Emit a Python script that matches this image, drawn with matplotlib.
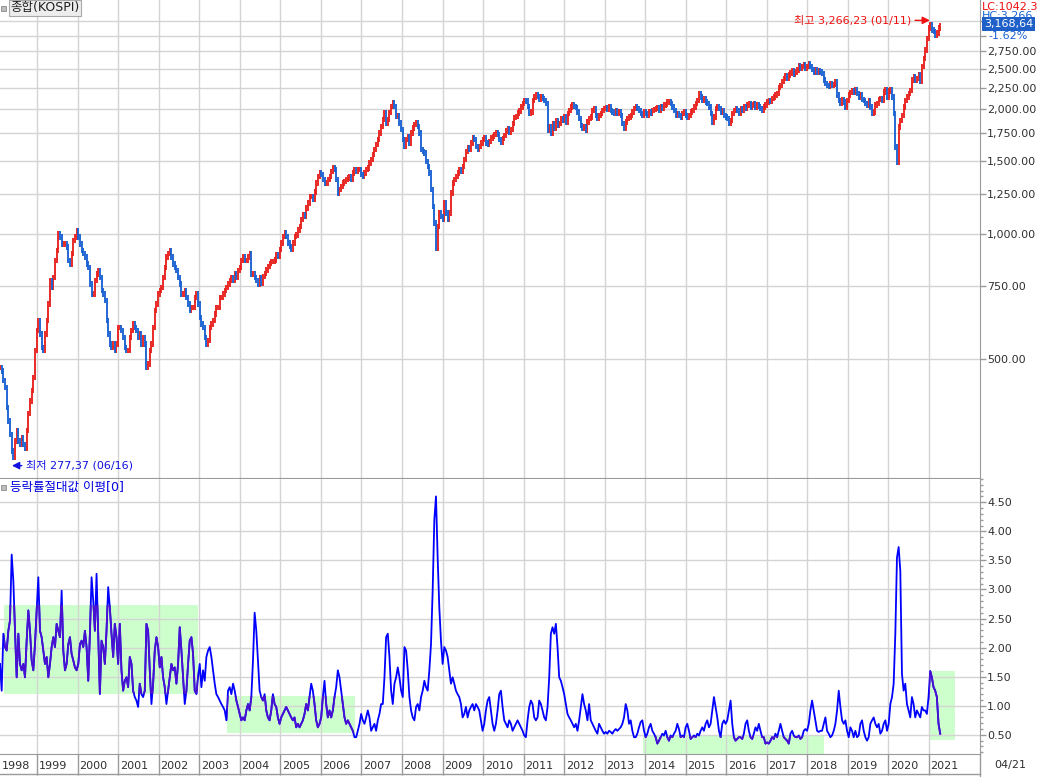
import numpy as np
import pandas as pd
import matplotlib
matplotlib.use('Agg')
import matplotlib.pyplot as plt
from matplotlib.patches import Rectangle
from matplotlib.lines import Line2D
from matplotlib.ticker import FixedLocator, MultipleLocator, NullLocator
import matplotlib.transforms as mtransforms

plt.rcParams['font.family'] = ['DejaVu Sans', 'Noto Sans CJK KR']

# KOSPI closes, one reading every 15 days from late Jan 1998
kospi_98_04 = [478, 469, 444, 428, 383, 355, 330, 301, 290, 318,
               337, 318, 312, 324, 312, 306, 337, 370, 397, 420,
               452, 524, 586, 619, 575, 534, 524, 575, 619, 679,
               773, 745, 787, 864, 913, 1002, 983, 947, 947, 947,
               930, 864, 848, 897, 965, 983, 1020, 983, 947, 913,
               897, 880, 848, 832, 759, 718, 718, 773, 802, 817,
               787, 731, 718, 692, 619, 575, 544, 534, 544, 524,
               544, 596, 596, 586, 564, 534, 524, 524, 564, 586,
               608, 596, 586, 564, 575, 544, 564, 544, 478, 487,
               524, 544, 596, 654, 679, 718, 731, 745, 787, 832,
               880, 897, 913, 880, 848, 832, 817, 787, 759, 718,
               718, 731, 705, 679, 654, 667, 667, 705, 718, 679,
               630, 608, 596, 564, 544, 554, 596, 608, 619, 642,
               667, 667, 705, 705, 718, 731, 745, 759, 773, 787,
               773, 802, 787, 817, 832, 864, 880, 864, 864, 880,
               897, 802, 802, 787, 773, 759, 787]
kospi_04_10 = [762, 791, 805, 820, 836, 851, 859, 859, 867, 892,
               884, 917, 951, 987, 1006, 987, 951, 934, 917, 951,
               987, 996, 1024, 1043, 1083, 1113, 1103, 1155, 1188, 1233,
               1233, 1210, 1264, 1327, 1377, 1403, 1390, 1352, 1327, 1327,
               1352, 1377, 1416, 1443, 1429, 1352, 1255, 1279, 1303, 1327,
               1340, 1352, 1365, 1377, 1352, 1403, 1429, 1416, 1429, 1429,
               1390, 1377, 1403, 1429, 1443, 1483, 1510, 1553, 1597, 1642,
               1689, 1750, 1817, 1887, 1958, 1849, 1887, 1958, 2030, 2068,
               2030, 1922, 1922, 1849, 1784, 1689, 1627, 1689, 1719, 1657,
               1750, 1800, 1834, 1849, 1817, 1750, 1597, 1582, 1568, 1497,
               1456, 1403, 1279, 1166, 1063, 925, 1043, 1124, 1103, 1083,
               1188, 1124, 1083, 1124, 1255, 1327, 1352, 1377, 1403, 1429,
               1416, 1456, 1510, 1582, 1612, 1597, 1657, 1704, 1689, 1627,
               1597, 1627, 1657, 1689, 1704, 1657, 1642, 1672, 1704, 1719,
               1734, 1750, 1734, 1689]
kospi_10_21 = [1666, 1697, 1729, 1770, 1794, 1761, 1784, 1844, 1906, 1920,
               1956, 1978, 2022, 2060, 2098, 2090, 2029, 1949, 1967, 2098,
               2137, 2169, 2145, 2106, 2137, 2117, 2098, 2060, 1777, 1810,
               1745, 1844, 1794, 1878, 1827, 1844, 1896, 1878, 1913, 1861,
               1949, 1985, 2022, 2052, 2029, 2014, 1967, 1896, 1827, 1794,
               1810, 1777, 1861, 1896, 1913, 1985, 2003, 1931, 1896, 1931,
               1949, 1985, 2003, 2014, 1992, 2022, 1985, 1967, 1949, 1985,
               1949, 1967, 1931, 1844, 1794, 1861, 1896, 1913, 1931, 1967,
               2003, 2029, 2003, 1985, 1949, 1931, 1967, 1949, 1931, 1967,
               1949, 1985, 1992, 2003, 2014, 1985, 2022, 2003, 2044, 2052,
               2079, 2087, 2060, 2022, 1985, 1931, 1949, 1931, 1913, 1949,
               1967, 1931, 1906, 1931, 1967, 1985, 2022, 2060, 2098, 2177,
               2137, 2098, 2117, 2079, 2060, 2022, 1949, 1861, 1913, 2003,
               2029, 2003, 1967, 1985, 1931, 1913, 1896, 1844, 1878, 1949,
               1985, 2003, 1985, 1956, 2003, 1985, 2022, 2003, 2044, 2060,
               2022, 2044, 2060, 2022, 2044, 2029, 2003, 1985, 2022, 2044,
               2079, 2098, 2090, 2117, 2137, 2161, 2177, 2250, 2280, 2325,
               2370, 2398, 2370, 2416, 2443, 2471, 2425, 2452, 2480, 2535,
               2507, 2526, 2550, 2507, 2526, 2564, 2526, 2489, 2452, 2480,
               2452, 2471, 2452, 2434, 2345, 2302, 2280, 2267, 2302, 2280,
               2293, 2325, 2161, 2098, 2060, 2106, 2079, 2022, 2098, 2161,
               2190, 2218, 2198, 2226, 2177, 2137, 2161, 2106, 2098, 2060,
               2044, 2098, 2022, 1949, 1967, 2044, 2060, 2106, 2117, 2098,
               2198, 2226, 2137, 2210, 2226, 2137, 1949, 1621, 1490, 1810,
               1878, 1931, 2022, 2098, 2137, 2177, 2218, 2345, 2389, 2345,
               2370, 2416, 2325, 2526, 2646, 2772, 2959, 3129, 3188, 3100,
               3071, 3015, 3043, 3129, 3169]

# average of absolute daily change (%), same 15-day steps
absdev_98_10 = [1.72, 1.26, 2.24, 2.01, 1.95, 2.29, 2.47, 3.60, 3.15, 2.29,
                1.49, 2.24, 1.72, 1.61, 1.72, 1.49, 2.12, 2.64, 2.29, 1.78,
                1.61, 2.06, 2.64, 3.21, 2.29, 2.18, 1.95, 1.72, 1.84, 1.49,
                1.72, 2.01, 2.18, 2.01, 2.41, 2.29, 2.18, 2.98, 1.95, 1.61,
                1.72, 2.06, 2.18, 1.89, 1.78, 1.66, 1.61, 1.72, 2.06, 2.12,
                2.01, 2.29, 2.01, 1.43, 2.24, 3.21, 2.81, 2.29, 3.27, 2.24,
                1.20, 2.12, 2.01, 1.72, 2.29, 3.04, 2.69, 2.24, 1.84, 2.41,
                2.18, 1.72, 2.41, 1.61, 1.26, 1.43, 1.49, 1.32, 1.84, 1.72,
                1.26, 1.15, 1.09, 0.98, 1.38, 1.20, 1.15, 1.26, 2.41, 2.29,
                1.61, 1.03, 1.38, 1.95, 2.18, 2.01, 1.66, 1.84, 1.49, 1.32,
                1.03, 1.26, 1.49, 1.72, 1.61, 1.66, 1.38, 1.72, 2.35, 1.95,
                1.49, 1.03, 1.26, 1.72, 2.12, 2.18, 1.89, 1.26, 1.20, 1.49,
                1.72, 1.32, 1.61, 1.43, 1.84, 1.95, 2.01, 1.84, 1.61, 1.38,
                1.20, 1.15, 1.09, 1.03, 0.98, 0.92, 0.75, 1.26, 1.32, 1.20,
                1.38, 1.26, 1.09, 0.98, 0.86, 0.75, 0.80, 0.75, 0.92, 1.03,
                0.92, 1.15, 1.78, 2.60, 2.29, 1.78, 1.26, 1.15, 1.09, 1.20,
                0.92, 0.80, 0.75, 0.92, 1.20, 1.03, 0.98, 0.80, 0.69, 0.80,
                0.86, 0.92, 0.98, 0.92, 0.86, 0.80, 0.75, 0.80, 0.63, 0.69,
                0.63, 0.69, 0.75, 0.86, 1.03, 0.92, 1.15, 1.38, 1.26, 1.03,
                0.75, 0.63, 0.69, 0.80, 1.15, 1.43, 1.03, 0.80, 0.92, 0.80,
                0.92, 1.15, 1.32, 1.61, 1.49, 1.26, 1.03, 0.80, 0.69, 0.75,
                0.69, 0.63, 0.57, 0.46, 0.46, 0.57, 0.69, 0.86, 0.75, 0.69,
                0.80, 0.92, 0.80, 0.57, 0.63, 0.69, 0.57, 0.75, 0.86, 1.03,
                1.03, 1.49, 2.18, 2.24, 1.84, 1.26, 1.03, 1.38, 1.49, 1.66,
                1.49, 1.26, 1.15, 2.01, 1.95, 1.61, 1.15, 0.92, 0.80, 0.75,
                0.98, 1.03, 0.92, 1.15, 1.26, 1.43, 1.32, 1.26, 1.61, 2.06,
                2.98, 4.20, 4.60, 3.55, 2.69, 2.12, 1.72, 2.01, 1.95, 1.84,
                1.61, 1.38, 1.49, 1.38, 1.26, 1.20, 1.15, 1.03, 0.80, 0.86,
                0.98, 0.80, 0.92, 0.98, 1.03, 0.92, 1.03, 0.98, 0.92, 0.75,
                0.57, 0.69, 0.92, 1.09, 1.15]
absdev_10_21 = [0.92, 0.69, 0.57, 0.69, 0.92, 1.20, 1.26, 0.98, 0.75, 0.69,
                0.63, 0.75, 0.69, 0.57, 0.63, 0.69, 0.75, 0.69, 0.63, 0.57,
                0.49, 0.46, 0.75, 0.98, 1.09, 1.03, 0.80, 0.75, 0.80, 1.09,
                1.03, 0.92, 0.80, 0.75, 0.98, 1.49, 2.24, 2.35, 2.24, 2.41,
                2.01, 1.49, 1.43, 1.32, 1.20, 1.03, 0.86, 0.80, 0.75, 0.69,
                0.63, 0.69, 0.57, 0.75, 0.98, 1.20, 1.03, 0.92, 0.75, 1.03,
                0.75, 0.69, 0.63, 0.57, 0.52, 0.69, 0.63, 0.57, 0.52, 0.55,
                0.52, 0.57, 0.55, 0.52, 0.57, 0.60, 0.57, 0.60, 0.63, 0.69,
                0.80, 1.03, 0.92, 0.69, 0.75, 0.57, 0.46, 0.46, 0.52, 0.63,
                0.72, 0.75, 0.57, 0.46, 0.52, 0.63, 0.69, 0.57, 0.52, 0.46,
                0.35, 0.40, 0.46, 0.52, 0.49, 0.57, 0.46, 0.40, 0.49, 0.46,
                0.52, 0.57, 0.69, 0.60, 0.46, 0.49, 0.46, 0.63, 0.69, 0.57,
                0.43, 0.46, 0.49, 0.46, 0.52, 0.49, 0.57, 0.63, 0.57, 0.69,
                0.75, 0.63, 0.69, 0.92, 1.15, 0.98, 0.80, 0.57, 0.46, 0.69,
                0.75, 0.69, 0.75, 0.92, 1.09, 0.69, 0.46, 0.40, 0.43, 0.46,
                0.46, 0.43, 0.52, 0.69, 0.75, 0.57, 0.46, 0.43, 0.52, 0.63,
                0.57, 0.69, 0.57, 0.46, 0.46, 0.35, 0.37, 0.35, 0.40, 0.46,
                0.43, 0.52, 0.46, 0.57, 0.69, 0.57, 0.46, 0.43, 0.40, 0.35,
                0.52, 0.57, 0.49, 0.46, 0.46, 0.49, 0.43, 0.46, 0.57, 0.60,
                0.57, 0.69, 0.92, 1.09, 0.92, 0.75, 0.57, 0.55, 0.57, 0.57,
                0.69, 0.80, 0.57, 0.52, 0.46, 0.49, 0.57, 0.69, 0.92, 1.26,
                0.98, 0.75, 0.69, 0.75, 0.57, 0.46, 0.63, 0.57, 0.46, 0.57,
                0.46, 0.49, 0.69, 0.75, 0.57, 0.46, 0.40, 0.46, 0.69, 0.75,
                0.80, 0.69, 0.63, 0.69, 0.52, 0.57, 0.69, 0.75, 0.57, 0.69,
                1.03, 1.15, 1.38, 2.24, 3.55, 3.73, 3.32, 1.55, 1.26, 1.38,
                1.03, 0.92, 0.80, 1.15, 1.03, 0.80, 0.92, 0.86, 0.80, 0.98,
                0.92, 0.92, 0.86, 1.15, 1.60, 1.49, 1.32, 1.26, 1.15, 0.69,
                0.52]

# shaded boxes on the lower pane
box_start = ['1998-03-07', '2003-09-06', '2013-12-15', '2021-01-01']
box_end = ['2002-12-18', '2006-11-03', '2018-06-01', '2021-08-25']
box_low = [1.21, 0.54, 0.0, 0.42]
box_high = [2.73, 1.16, 0.48, 1.60]

peak_date, peak_value = '2021-01-11', 3266.23
trough_date, trough_value = '1998-06-16', 277.37
last_value, last_change = 3168.64, -1.62

price_ticks = [500, 750, 1000, 1250, 1500, 1750, 2000, 2250, 2500, 2750, 3000, 3250]
years = list(range(1998, 2022))

RED = '#E8221E'
BLUE = '#1A62D2'
GRID = '#D4D4D4'
AXC = '#9A9A9A'
TXT = '#303030'


def decimal_year(d):
    d = pd.DatetimeIndex(pd.to_datetime(d))
    return np.asarray(d.year + (d.dayofyear - 1) / np.where(d.is_leap_year, 366.0, 365.0))


close = np.array(kospi_98_04 + kospi_04_10 + kospi_10_21, float)
absdev = np.array(absdev_98_10 + absdev_10_21, float)
t_close = decimal_year(pd.date_range('1998-01-30', periods=len(close), freq='15D'))
t_abs = decimal_year(pd.date_range('1998-01-30', periods=len(absdev), freq='15D'))

W, H = 1037, 777
fig = plt.figure(figsize=(W / 100, H / 100), dpi=100)


def frame(x0, y0, x1, y1):
    return [x0 / W, 1 - y1 / H, (x1 - x0) / W, (y1 - y0) / H]


ax1 = fig.add_axes(frame(0, 0, 980, 478))
ax2 = fig.add_axes(frame(0, 479, 980, 754))
x_left, x_right = 1998.079, 1998.079 + 980 / 40.52

for ax in (ax1, ax2):
    ax.set_xlim(x_left, x_right)
    ax.xaxis.set_major_locator(FixedLocator(years[1:]))
    ax.tick_params(axis='x', length=0, labelbottom=False)
    ax.yaxis.tick_right()
    ax.grid(True, color=GRID, lw=1)
    ax.set_axisbelow(True)
    for s in ('left', 'top'):
        ax.spines[s].set_visible(False)
    for s in ('right', 'bottom'):
        ax.spines[s].set_color(AXC)
    ax.tick_params(axis='y', which='major', direction='out', length=4, width=1,
                   color=AXC, labelcolor=TXT, labelsize=8, pad=1)

# upper pane: price bars, open = previous close
ax1.set_yscale('log')
ax1.set_ylim(259, 3656)
ax1.yaxis.set_major_locator(FixedLocator(price_ticks))
ax1.yaxis.set_minor_locator(NullLocator())
ax1.set_yticklabels([f'{v:,.2f}' if v < 3000 else '' for v in price_ticks])
opn = np.r_[close[0], close[:-1]]
up = close >= opn
lo = np.minimum(opn, close) * 0.985
hi = np.maximum(opn, close) * 1.015
ax1.vlines(t_close[up], lo[up], hi[up], color=RED, lw=1.35, zorder=3)
ax1.vlines(t_close[~up], lo[~up], hi[~up], color=BLUE, lw=1.35, zorder=3)

ax1.annotate(f'최고 {peak_value:,.2f} (01/11)'.replace('.', ','),
             xy=(decimal_year([peak_date])[0], peak_value), xytext=(-19, 0),
             textcoords='offset pixels', ha='right', va='center', color='#F01010', fontsize=8,
             arrowprops=dict(arrowstyle='-|>', color='#F01010', lw=1, shrinkA=1, shrinkB=0,
                             mutation_scale=11), zorder=5)
ax1.annotate(f'최저 {trough_value:.2f} (06/16)'.replace('.', ','),
             xy=(decimal_year([trough_date])[0] - 0.08, trough_value), xytext=(14, 0),
             textcoords='offset pixels', ha='left', va='center', color='#1010E0', fontsize=8,
             arrowprops=dict(arrowstyle='-|>', color='#1010E0', lw=1, shrinkA=1, shrinkB=0,
                             mutation_scale=11), zorder=5)

# lower pane
ax2.set_ylim(0.171, 4.90)
ax2.yaxis.set_major_locator(MultipleLocator(0.5))
ax2.yaxis.set_minor_locator(MultipleLocator(0.1))
ax2.yaxis.set_major_formatter(lambda v, p: f'{v:.2f}')
ax2.tick_params(axis='y', which='minor', direction='out', length=2, width=1, color=AXC)
ax2.plot(t_abs, absdev, color='#0000FF', lw=1.3, zorder=3)
for s, e, l, h in zip(box_start, box_end, box_low, box_high):
    x0, x1 = decimal_year([s, e])
    box = Rectangle((x0, l), x1 - x0, h - l, facecolor='#CCFFCC', edgecolor='none', zorder=0.4)
    ax2.add_patch(box)
    # the line reads darker (violet) where it crosses a box
    inside, = ax2.plot(t_abs, absdev, color='#4A10D0', lw=1.3, zorder=3.5)
    inside.set_clip_path(box)

# year row under the lower pane
tr = mtransforms.blended_transform_factory(ax2.transData, ax2.transAxes)
for y in years:
    ax2.text(max(y, x_left) + 0.04, -0.043, str(y), transform=tr, ha='left', va='center',
             fontsize=8, color=TXT, clip_on=False)
ax2.vlines(years[1:], -0.075, 0, transform=tr, color=AXC, lw=1, clip_on=False)
fig.add_artist(Line2D([0, 980 / W], [1 - 774 / H] * 2, color=AXC, lw=1))
fig.add_artist(Line2D([980 / W] * 2, [0, 1 - 754 / H], color=AXC, lw=1))
fig.text(1010 / W, 1 - 765 / H, '04/21', ha='center', va='center', fontsize=8, color=TXT)

# pane titles
fig.add_artist(Rectangle((1 / W, 1 - 11 / H), 5 / W, 5 / H, facecolor='#BDBDBD', edgecolor='#8A8A8A',
                         lw=0.6, transform=fig.transFigure))
fig.text(10 / W, 1 - 8 / H, '종합(KOSPI)', ha='left', va='center', fontsize=9, color='#202020',
         bbox=dict(boxstyle='square,pad=0.12', facecolor='#EDEDED', edgecolor='#A8A8A8', lw=0.8))
fig.add_artist(Rectangle((1 / W, 1 - 490 / H), 5 / W, 5 / H, facecolor='#BDBDBD', edgecolor='#8A8A8A',
                         lw=0.6, transform=fig.transFigure))
fig.text(10 / W, 1 - 487 / H, '등락률절대값 이평[0]', ha='left', va='center', fontsize=9, color='#0000E0')

# right-side value labels
fig.text(982 / W, 1 - 7 / H, 'LC:1042.39', ha='left', va='center', fontsize=8, color='#F01010')
fig.text(982 / W, 1 - 16 / H, f'HC:{peak_value:,.2f}', ha='left', va='center', fontsize=8, color=BLUE)
fig.text(984 / W, 1 - 24 / H, f'{last_value:,.2f}'.replace('.', ','), ha='left', va='center',
         fontsize=8, color='white',
         bbox=dict(boxstyle='square,pad=0.15', facecolor='#1E5FC8', edgecolor='none'))
fig.text(988 / W, 1 - 36 / H, f'{last_change:.2f}%', ha='left', va='center', fontsize=8, color=BLUE)

fig.savefig('out.png', dpi=100, facecolor='white')
